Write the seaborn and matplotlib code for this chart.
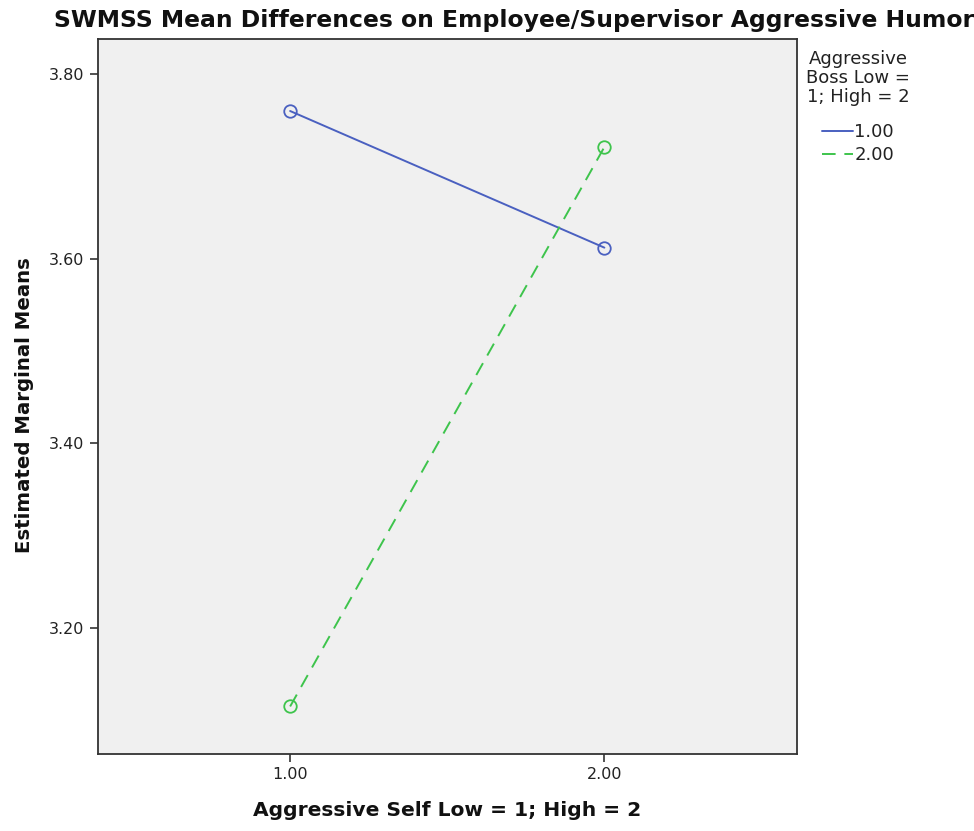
import matplotlib
matplotlib.use("Agg")
import matplotlib.pyplot as plt
import seaborn as sns
import pandas as pd
from matplotlib.lines import Line2D

# Data
self_levels = [1.0, 2.0]
boss_levels = ["1.00", "2.00"]
means_boss_low = [3.760, 3.612]
means_boss_high = [3.115, 3.721]
x_ticks = [1.0, 2.0]
x_tick_labels = ["1.00", "2.00"]
y_ticks = [3.20, 3.40, 3.60, 3.80]
y_tick_labels = ["3.20", "3.40", "3.60", "3.80"]

df = pd.DataFrame({
    "self": self_levels * 2,
    "mean": means_boss_low + means_boss_high,
    "boss": [boss_levels[0]] * 2 + [boss_levels[1]] * 2,
})

sns.set_theme(style="white")
plt.rcParams['font.family'] = ['DejaVu Sans']

colors = {"1.00": "#4a60c0", "2.00": "#3ec44c"}
styles = {"1.00": "-", "2.00": (0, (7, 4.5))}

W, H = 974, 831
fig = plt.figure(figsize=(W / 100, H / 100), dpi=100)
ax_l, ax_r, ax_t, ax_b = 97.5, 797, 39, 754
ax = fig.add_axes([ax_l / W, 1 - ax_b / H, (ax_r - ax_l) / W, (ax_b - ax_t) / H])
ax.set_facecolor("#f0f0f0")

for b in boss_levels:
    sub = df[df["boss"] == b]
    sns.lineplot(data=sub, x="self", y="mean", ax=ax, color=colors[b],
                 linestyle=styles[b], marker="o", markersize=9,
                 markerfacecolor="none", markeredgecolor=colors[b],
                 markeredgewidth=1.3, linewidth=1.4, legend=False)

ax.set_xlim(0.387, 2.613)
ax.set_ylim(3.0635, 3.838)
ax.set_xticks(x_ticks)
ax.set_xticklabels(x_tick_labels)
ax.set_yticks(y_ticks)
ax.set_yticklabels(y_tick_labels)
ax.tick_params(axis="both", which="both", direction="out", length=6, width=1.2,
               colors="#333333", labelsize=11.5, labelcolor="#222222", left=True, bottom=True)
for s in ax.spines.values():
    s.set_color("#333333")
    s.set_linewidth(1.3)
    s.set_visible(True)

ax.set_xlabel("Aggressive Self Low = 1; High = 2", fontsize=14.6, fontweight="bold", color="#111111")
ax.set_ylabel("Estimated Marginal Means", fontsize=14.2, fontweight="bold", color="#111111")
ax.xaxis.set_label_coords(0.5 + (447 - (ax_l + ax_r) / 2) / (ax_r - ax_l), -(811 - ax_b) / (ax_b - ax_t))
ax.xaxis.label.set_va("center")
ax.yaxis.set_label_coords(-(ax_l - 24) / (ax_r - ax_l), 0.5 - (405 - (ax_t + ax_b) / 2) / (ax_b - ax_t))
ax.yaxis.label.set_va("center")
ax.yaxis.label.set_ha("center")

fig.text(514 / W, 1 - 20 / H, "SWMSS Mean Differences on Employee/Supervisor Aggressive Humor",
         ha="center", va="center", fontsize=16.9, fontweight="bold", color="#111111")

fig.text(858 / W, 1 - 78 / H, "Aggressive\nBoss Low =\n1; High = 2", ha="center", va="center",
         multialignment="center", fontsize=13, color="#222222", linespacing=1.05)

handles = [Line2D([0], [0], color=colors[b], linestyle=styles[b], linewidth=1.4) for b in boss_levels]
leg = fig.legend(handles, boss_levels, loc="upper left", bbox_to_anchor=(822 / W, 1 - 123 / H),
                 frameon=False, fontsize=13, handlelength=1.7, handletextpad=0.1,
                 labelspacing=0.3, borderpad=0, borderaxespad=0)
for t in leg.get_texts():
    t.set_color("#222222")

fig.savefig("out.png", dpi=100)
